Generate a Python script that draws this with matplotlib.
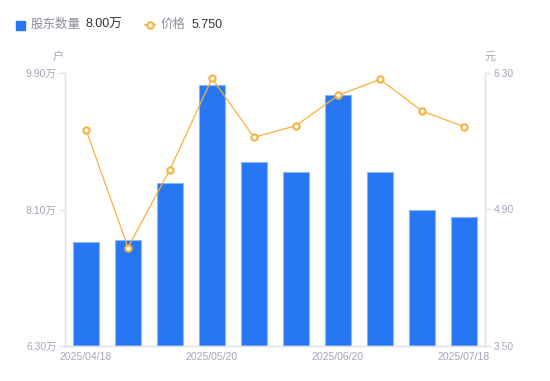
import matplotlib
matplotlib.use('Agg')
import matplotlib.pyplot as plt
from matplotlib.lines import Line2D
from matplotlib.patches import Rectangle
import numpy as np

plt.rcParams['font.family'] = ['Liberation Sans', 'Noto Sans CJK SC', 'DejaVu Sans']

# holders in 万户, price in 元
holders = [7.67, 7.70, 8.45, 9.74, 8.73, 8.59, 9.61, 8.59, 8.09, 8.00]
price = [5.72, 4.51, 5.31, 6.245, 5.64, 5.76, 6.07, 6.235, 5.91, 5.75]
x_labels = ['2025/04/18', '', '', '2025/05/20', '', '', '2025/06/20', '', '', '2025/07/18']
left_ticks = [6.30, 8.10, 9.90]
right_ticks = [3.50, 4.90, 6.30]

bar_color = '#2777F4'
line_color = '#F7B13A'
label_color = '#A3A6B8'
axis_color = '#E3E4EA'

fig = plt.figure(figsize=(5.5, 3.81), dpi=100)
ax = fig.add_axes([65 / 550, 35 / 381, 420 / 550, 273 / 381])
ax2 = ax.twinx()

x = np.arange(len(holders))
ax.bar(x, [h - left_ticks[0] for h in holders], bottom=left_ticks[0], width=0.6,
       color=bar_color, edgecolor='#8DB6F9', linewidth=0.8, zorder=2)
ax.set_xlim(-0.5, len(holders) - 0.5)
ax.set_ylim(left_ticks[0], left_ticks[-1])
ax.set_yticks(left_ticks)
ax.set_yticklabels([f'{v:.2f}万' for v in left_ticks])

ax2.plot(x, price, color=line_color, linewidth=0.9, marker='o', markersize=4.5,
         markerfacecolor='white', markeredgecolor=line_color, markeredgewidth=1.5, zorder=3)
ax2.set_ylim(right_ticks[0], right_ticks[-1])
ax2.set_yticks(right_ticks)
ax2.set_yticklabels([f'{v:.2f}' for v in right_ticks])

ax.set_xticks(x)
ax.set_xticklabels(x_labels)

for a in (ax, ax2):
    for s in a.spines.values():
        s.set_color(axis_color)
        s.set_linewidth(1)
    a.spines['top'].set_visible(False)
    a.tick_params(axis='both', colors=axis_color, labelcolor=label_color,
                  labelsize=7.5, length=4, width=1, pad=2)
ax.tick_params(axis='x', length=0, pad=4)
ax2.set_zorder(ax.get_zorder() + 1)
ax2.patch.set_visible(False)

# units
fig.text(58 / 550, 1 - 57 / 381, '户', color=label_color, fontsize=8, ha='center', va='center')
fig.text(490 / 550, 1 - 57 / 381, '元', color=label_color, fontsize=8, ha='center', va='center')

# legend
ly = 1 - 25 / 381
fig.patches.append(Rectangle((16 / 550, ly - 4.5 / 381), 9 / 550, 9 / 381,
                             transform=fig.transFigure, color=bar_color, figure=fig))
fig.text(31 / 550, ly, '股东数量', color='#8A8D9C', fontsize=9, va='center')
fig.text(85 / 550, ly, f'{holders[-1]:.2f}万', color='#333333', fontsize=9, va='center')
fig.lines.append(Line2D([145 / 550, 155 / 550], [ly, ly], transform=fig.transFigure,
                        color=line_color, linewidth=1.2, figure=fig))
fig.lines.append(Line2D([150 / 550], [ly], transform=fig.transFigure, color=line_color,
                        marker='o', markersize=4.5, markerfacecolor='white',
                        markeredgewidth=1.5, figure=fig))
fig.text(161 / 550, ly, '价格', color='#8A8D9C', fontsize=9, va='center')
fig.text(192 / 550, ly, f'{price[-1]:.3f}', color='#333333', fontsize=9, va='center')

fig.savefig('out.png', dpi=100)
